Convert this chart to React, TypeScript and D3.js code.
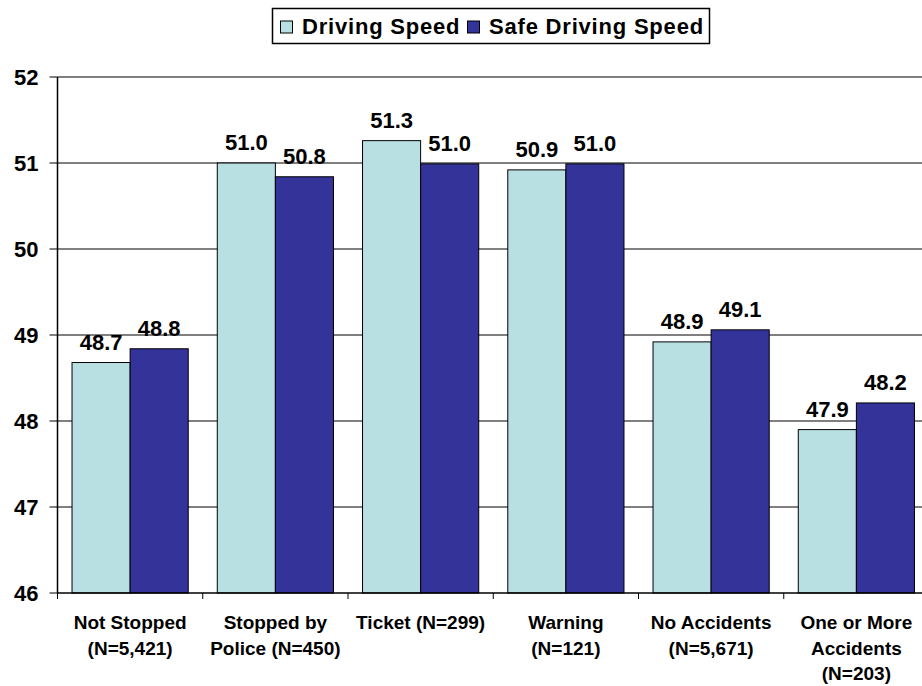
import * as d3 from 'd3';
import { useEffect, useRef } from 'react';

const categories = [
  ['Not Stopped', '(N=5,421)'],
  ['Stopped by', 'Police (N=450)'],
  ['Ticket (N=299)'],
  ['Warning', '(N=121)'],
  ['No Accidents', '(N=5,671)'],
  ['One or More', 'Accidents', '(N=203)'],
];
const drivingSpeed = [48.68, 51.0, 51.26, 50.92, 48.92, 47.9];
const safeDrivingSpeed = [48.84, 50.84, 50.99, 50.99, 49.06, 48.21];
const seriesNames = ['Driving Speed', 'Safe Driving Speed'];
const yTicks = [46, 47, 48, 49, 50, 51, 52];

const colors = ['#B8E0E3', '#333399'];
const FONT = '"Liberation Sans", Arial, sans-serif';

const App = () => {
  const svgRef = useRef<SVGSVGElement>(null);
  const width = 922, height = 686;
  const margin = { top: 77, right: -7, bottom: 93, left: 57.5 };
  const boundsW = width - margin.left - margin.right;
  const boundsH = height - margin.top - margin.bottom;

  useEffect(() => {
    const svg = d3.select(svgRef.current);
    svg.selectAll('*').remove();

    const keys = categories.map((_, i) => String(i));
    const scaleX = d3.scaleBand().domain(keys).range([0, boundsW]).paddingInner(0).paddingOuter(0);
    const scaleSub = d3.scaleBand().domain(['0', '1']).range([0, scaleX.bandwidth()]).paddingOuter(0.25).paddingInner(0);
    const scaleY = d3.scaleLinear().domain([46, 52]).range([boundsH, 0]);

    const g = svg.append('g').attr('transform', `translate(${margin.left},${margin.top})`);

    // gridlines
    g.selectAll('line.grid').data(yTicks.slice(1)).join('line')
      .attr('x1', 0).attr('x2', boundsW)
      .attr('y1', d => scaleY(d)).attr('y2', d => scaleY(d))
      .attr('stroke', '#000').attr('stroke-width', 1);

    // bars
    const series = [drivingSpeed, safeDrivingSpeed];
    series.forEach((vals, si) => {
      vals.forEach((v, i) => {
        const x = scaleX(String(i))! + scaleSub(String(si))!;
        g.append('rect')
          .attr('x', x).attr('y', scaleY(v))
          .attr('width', scaleSub.bandwidth()).attr('height', boundsH - scaleY(v))
          .attr('fill', colors[si]).attr('stroke', '#000').attr('stroke-width', 1);
        g.append('text')
          .attr('x', x + scaleSub.bandwidth() / 2).attr('y', scaleY(v) - 13)
          .attr('text-anchor', 'middle')
          .style('font', `bold 22px ${FONT}`)
          .text(d3.format('.1f')(v));
      });
    });

    // y axis
    g.append('line').attr('x1', 0).attr('x2', 0).attr('y1', 0).attr('y2', boundsH)
      .attr('stroke', '#000').attr('stroke-width', 1.5);
    yTicks.forEach(t => {
      g.append('line').attr('x1', -8).attr('x2', 0).attr('y1', scaleY(t)).attr('y2', scaleY(t))
        .attr('stroke', '#000');
      g.append('text').attr('x', -19).attr('y', scaleY(t)).attr('dy', '0.36em')
        .attr('text-anchor', 'end')
        .style('font', `bold 22px ${FONT}`).text(String(t));
    });

    // x axis
    g.append('line').attr('x1', 0).attr('x2', boundsW).attr('y1', boundsH).attr('y2', boundsH)
      .attr('stroke', '#000').attr('stroke-width', 1.5);
    keys.forEach(k => {
      const x = scaleX(k)!;
      g.append('line').attr('x1', x).attr('x2', x).attr('y1', boundsH).attr('y2', boundsH + 6)
        .attr('stroke', '#000');
    });
    categories.forEach((lines, i) => {
      const cx = scaleX(String(i))! + scaleX.bandwidth() / 2;
      const txt = g.append('text').attr('text-anchor', 'middle')
        .style('font', `bold 19px ${FONT}`);
      lines.forEach((ln, li) => {
        txt.append('tspan').attr('x', cx).attr('y', boundsH + 36 + li * 25.5).text(ln);
      });
    });

    // legend
    const legend = svg.append('g');
    legend.append('rect').attr('x', 272.5).attr('y', 8.5).attr('width', 437).attr('height', 35)
      .attr('fill', '#fff').attr('stroke', '#000').attr('stroke-width', 1.5);
    const legendX = [280, 467];
    seriesNames.forEach((name, i) => {
      legend.append('rect').attr('x', legendX[i] + 0.5).attr('y', 21).attr('width', 12).attr('height', 12)
        .attr('fill', colors[i]).attr('stroke', '#000').attr('stroke-width', 1);
      legend.append('text').attr('x', legendX[i] + 22).attr('y', 34)
        .style('font', `bold 22px ${FONT}`).style('letter-spacing', '0.8px').text(name);
    });
  }, []);

  return <svg ref={svgRef} width={width} height={height}
    style={{ position: 'absolute', left: 0, top: 0, background: '#fff' }}></svg>;
};

export default App;
